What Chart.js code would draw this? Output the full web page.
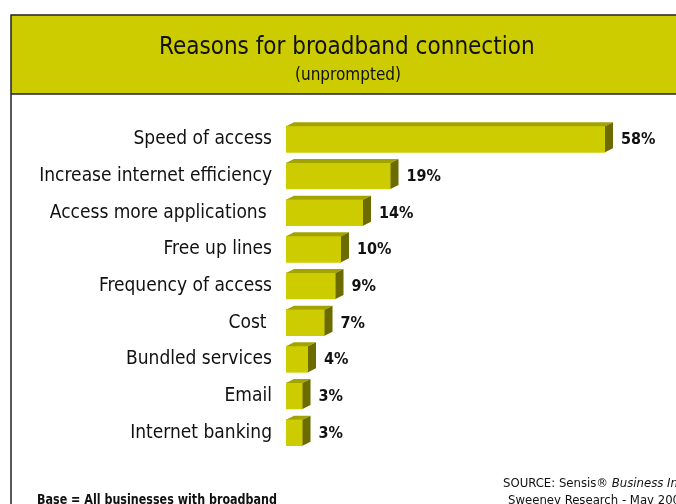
<!DOCTYPE html>
<html>
<head>
<meta charset="utf-8">
<script src="https://cdn.jsdelivr.net/npm/chart.js@4/dist/chart.umd.min.js"></script>
<style>
  html, body { margin: 0; padding: 0; background: #fff; }
  #chart { display: block; }
</style>
</head>
<body>
<canvas id="chart" width="676" height="504"></canvas>
<script>
// Reasons for broadband connection (unprompted)
const reasons = [
    'Speed of access',
    'Increase internet efficiency',
    'Access more applications ',
    'Free up lines',
    'Frequency of access',
    'Cost ',
    'Bundled services',
    'Email',
    'Internet banking'
];
const shares = [58, 19, 14, 10, 9, 7, 4, 3, 3];

const FONT = '"DejaVu Sans Condensed", "Liberation Sans", sans-serif';
const FRONT = '#cccc00';
const TOP = '#a3a300';
const SIDE = '#6b6b00';
const DEPTH_X = 8;
const DEPTH_Y = 4;

// squeeze a line of text sideways so it spans the given width
function fitText(ctx, text, x, y, width) {
    const w = ctx.measureText(text).width;
    ctx.save();
    ctx.translate(x, y);
    ctx.scale(Math.min(1, width / w), 1);
    ctx.fillText(text, 0, 0);
    ctx.restore();
}

// draws the title banner, the frame line and the footer notes
const framePlugin = {
    id: 'frame',
    beforeDraw(chart) {
        const ctx = chart.ctx;
        ctx.save();
        ctx.fillStyle = '#fff';
        ctx.fillRect(0, 0, chart.width, chart.height);

        ctx.fillStyle = FRONT;
        ctx.fillRect(11, 15, chart.width, 79);
        ctx.strokeStyle = '#222';
        ctx.lineWidth = 1.5;
        ctx.beginPath();
        ctx.moveTo(chart.width + 2, 15);
        ctx.lineTo(11, 15);
        ctx.lineTo(11, chart.height + 2);
        ctx.moveTo(11, 94);
        ctx.lineTo(chart.width + 2, 94);
        ctx.stroke();

        ctx.fillStyle = '#111';
        ctx.textAlign = 'left';
        ctx.textBaseline = 'alphabetic';
        ctx.font = '24px ' + FONT;
        fitText(ctx, 'Reasons for broadband connection', 159, 54, 382);
        ctx.font = '17px ' + FONT;
        fitText(ctx, '(unprompted)', 295, 80, 110);

        ctx.font = 'bold 14px ' + FONT;
        fitText(ctx, 'Base = All businesses with broadband', 37, 504, 240);

        ctx.font = '13px ' + FONT;
        const src = 'SOURCE: Sensis\u00AE ';
        ctx.fillText(src, 503, 487);
        const w = ctx.measureText(src).width;
        ctx.font = 'italic 13px ' + FONT;
        ctx.fillText('Business Index', 503 + w, 487);
        ctx.font = '13px ' + FONT;
        ctx.fillText('Sweeney Research - May 2007', 508, 504);
        ctx.restore();
    }
};

// adds the top and side faces of each bar plus the value labels
const depthPlugin = {
    id: 'depth',
    afterDatasetsDraw(chart) {
        const ctx = chart.ctx;
        const meta = chart.getDatasetMeta(0);
        ctx.save();
        meta.data.forEach((bar, i) => {
            const x0 = bar.base;
            const x1 = bar.x;
            const top = bar.y - bar.height / 2;
            const bottom = bar.y + bar.height / 2;

            ctx.fillStyle = TOP;
            ctx.beginPath();
            ctx.moveTo(x0, top);
            ctx.lineTo(x0 + DEPTH_X, top - DEPTH_Y);
            ctx.lineTo(x1 + DEPTH_X, top - DEPTH_Y);
            ctx.lineTo(x1, top);
            ctx.closePath();
            ctx.fill();

            ctx.fillStyle = SIDE;
            ctx.beginPath();
            ctx.moveTo(x1, top);
            ctx.lineTo(x1 + DEPTH_X, top - DEPTH_Y);
            ctx.lineTo(x1 + DEPTH_X, bottom - DEPTH_Y);
            ctx.lineTo(x1, bottom);
            ctx.closePath();
            ctx.fill();

            ctx.fillStyle = '#111';
            ctx.font = 'bold 16px ' + FONT;
            ctx.textAlign = 'left';
            ctx.textBaseline = 'middle';
            ctx.fillText(shares[i] + '%', x1 + DEPTH_X + 8, bar.y + 1);
        });
        ctx.restore();
    }
};

new Chart(document.getElementById('chart'), {
    type: 'bar',
    data: {
        labels: reasons,
        datasets: [{
            data: shares,
            backgroundColor: FRONT,
            borderWidth: 0,
            barThickness: 26
        }]
    },
    options: {
        indexAxis: 'y',
        responsive: false,
        animation: false,
        layout: {
            padding: { left: 11, right: 5, top: 121, bottom: 53 }
        },
        plugins: {
            legend: { display: false },
            tooltip: { enabled: false }
        },
        scales: {
            x: {
                display: false,
                min: 0,
                max: 70
            },
            y: {
                afterFit(scale) { scale.width = 275; },
                grid: { display: false, drawTicks: false },
                border: { display: false },
                ticks: {
                    color: '#111',
                    padding: 14,
                    font: { size: 19, family: FONT }
                }
            }
        }
    },
    plugins: [framePlugin, depthPlugin]
});
</script>
</body>
</html>
